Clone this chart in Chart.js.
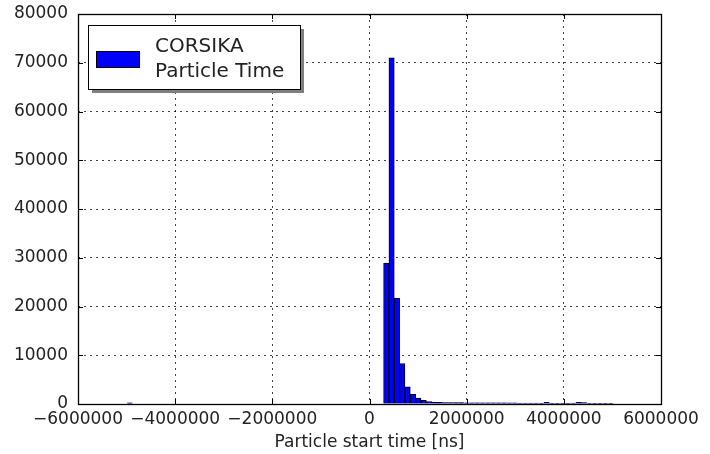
<!DOCTYPE html>
<html>
<head>
<meta charset="utf-8">
<script src="https://cdn.jsdelivr.net/npm/chart.js@4/dist/chart.umd.min.js"></script>
<style>
  html, body { margin: 0; padding: 0; background: #fff; }
  #wrap { width: 710px; height: 454px; }
</style>
</head>
<body>
<div id="wrap"><canvas id="histChart" width="710" height="454"></canvas></div>
<script>
// histogram bins (ns)
const binStart = -4990000;
const binWidth = 110000;
// counts per bin
const counts = [
    250,
    0, 0, 0, 0, 0, 0, 0, 0, 0, 0, 0, 0, 0, 0, 0, 0, 0, 0, 0, 0, 0, 0, 0, 0,
    0, 0, 0, 0, 0, 0, 0, 0, 0, 0, 0, 0, 0, 0, 0, 0, 0, 0, 0, 0, 0, 0, 0,
    28900, 71000, 21700, 8300, 3500, 2000, 1200, 750, 500, 380,
    320, 300, 290, 280, 270, 260, 260, 250, 250, 240, 240, 230, 230, 220, 220, 210, 210, 200, 200,
    80, 320, 60, 50, 50, 60, 200, 340, 300, 80, 70, 60, 60, 50
];
const xTicks = [-6000000, -4000000, -2000000, 0, 2000000, 4000000, 6000000];
const yTicks = [0, 10000, 20000, 30000, 40000, 50000, 60000, 70000, 80000];
const seriesLabel = ['CORSIKA', 'Particle Time'];

const points = counts.map((c, i) => ({ x: binStart + binWidth * (i + 0.5), y: c }));

const FONT = 'DejaVu Sans';

// frame, inward ticks and the shadowed legend box
const mplStyle = {
    id: 'mplStyle',
    afterDatasetsDraw(chart) {
        const ctx = chart.ctx;
        const a = chart.chartArea;
        const xs = chart.scales.x, ys = chart.scales.y;
        ctx.save();
        ctx.strokeStyle = '#000';
        ctx.lineWidth = 1;
        ctx.beginPath();
        xTicks.forEach(v => {
            const px = Math.round(xs.getPixelForValue(v)) + 0.5;
            ctx.moveTo(px, a.bottom); ctx.lineTo(px, a.bottom - 5);
            ctx.moveTo(px, a.top); ctx.lineTo(px, a.top + 5);
        });
        yTicks.forEach(v => {
            const py = Math.round(ys.getPixelForValue(v)) + 0.5;
            ctx.moveTo(a.left, py); ctx.lineTo(a.left + 5, py);
            ctx.moveTo(a.right, py); ctx.lineTo(a.right - 5, py);
        });
        ctx.stroke();
        ctx.lineWidth = 1.3;
        ctx.strokeRect(Math.round(a.left) + 0.5, Math.round(a.top) + 0.5,
            Math.round(a.right - a.left), Math.round(a.bottom - a.top));

        // legend
        const lx = 88, ly = 25, lw = 212, lh = 64;
        ctx.fillStyle = '#7f7f7f';
        ctx.fillRect(lx + 4, ly + 4, lw, lh);
        ctx.fillStyle = '#fff';
        ctx.fillRect(lx, ly, lw, lh);
        ctx.lineWidth = 1;
        ctx.strokeStyle = '#000';
        ctx.strokeRect(lx + 0.5, ly + 0.5, lw, lh);
        const ds = chart.data.datasets[0];
        ctx.fillStyle = ds.backgroundColor;
        ctx.fillRect(96, 51, 43, 16);
        ctx.strokeRect(96.5, 51.5, 43, 16);
        ctx.fillStyle = '#222';
        ctx.font = '20px "' + FONT + '"';
        ctx.textBaseline = 'alphabetic';
        ctx.textAlign = 'left';
        ds.label.forEach((t, i) => ctx.fillText(t, 155, 52 + i * 25));
        ctx.restore();
    }
};

const minus = v => (v < 0 ? '\u2212' + Math.abs(v) : String(v));

new Chart(document.getElementById('histChart'), {
    type: 'bar',
    data: {
        datasets: [{
            label: seriesLabel,
            data: points,
            backgroundColor: '#0000ff',
            borderColor: '#000',
            borderWidth: 1,
            borderSkipped: 'start',
            barPercentage: 1,
            categoryPercentage: 1,
            grouped: false
        }]
    },
    options: {
        responsive: false,
        animation: false,
        devicePixelRatio: 1,
        layout: { padding: { left: 0, right: 49, top: 14, bottom: 0 } },
        plugins: { legend: { display: false }, tooltip: { enabled: false } },
        scales: {
            x: {
                type: 'linear',
                offset: false,
                min: -6000000,
                max: 6000000,
                afterBuildTicks: s => { s.ticks = xTicks.map(v => ({ value: v })); },
                afterFit: s => { s.height = 50; s.paddingLeft = 0; s.paddingRight = 0; },
                border: { display: false, dash: [2, 4] },
                grid: { offset: false, color: 'rgba(0,0,0,0.75)', lineWidth: 1, drawTicks: false },
                ticks: {
                    padding: 5,
                    maxRotation: 0,
                    autoSkip: false,
                    color: '#222',
                    font: { family: FONT, size: 17 },
                    callback: v => minus(v)
                },
                title: {
                    display: true,
                    text: 'Particle start time [ns]',
                    color: '#222',
                    font: { family: FONT, size: 17 },
                    padding: { top: 2, bottom: 1 }
                }
            },
            y: {
                min: 0,
                max: 80000,
                afterBuildTicks: s => { s.ticks = yTicks.map(v => ({ value: v })); },
                afterFit: s => { s.width = 78; s.paddingTop = 0; s.paddingBottom = 0; },
                border: { display: false, dash: [2, 4] },
                grid: { color: 'rgba(0,0,0,0.75)', lineWidth: 1, drawTicks: false },
                ticks: {
                    padding: 10,
                    color: '#222',
                    font: { family: FONT, size: 17 },
                    callback: v => String(v)
                }
            }
        }
    },
    plugins: [mplStyle]
});
</script>
</body>
</html>
